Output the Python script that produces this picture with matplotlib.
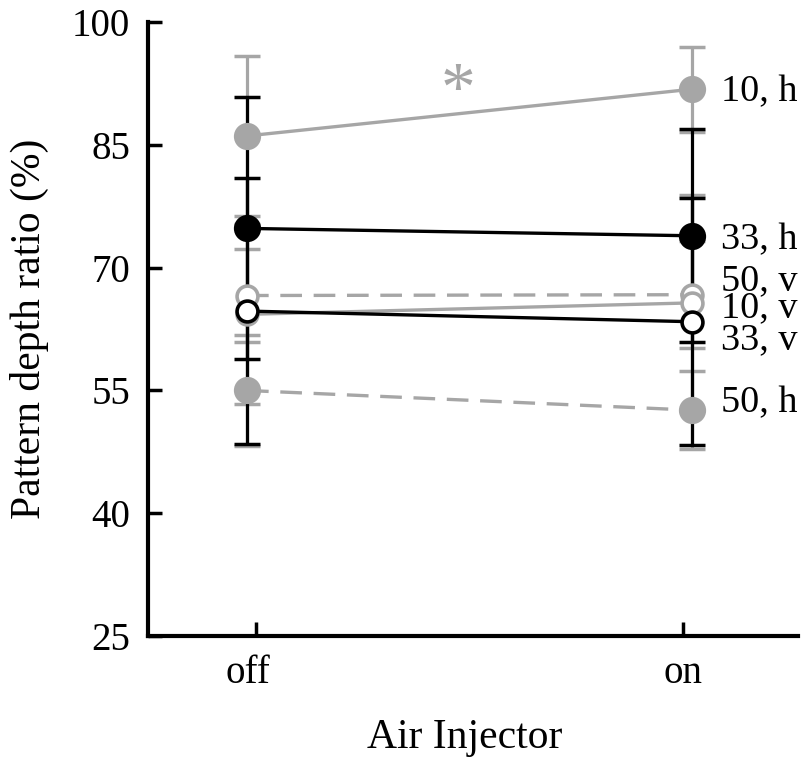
import matplotlib
matplotlib.use('Agg')
import matplotlib.pyplot as plt
import matplotlib.transforms as mtransforms

plt.rcParams['font.family'] = ['Liberation Serif', 'DejaVu Serif']

# conditions: off / on
conditions = ['off', 'on']
series = ['10, h', '33, h', '50, v', '10, v', '33, v', '50, h']

off_mean = [86.1, 74.8, 66.6, 64.3, 64.7, 55.0]
on_mean = [91.8, 73.9, 66.7, 65.7, 63.4, 52.6]
off_err = [9.8, 16.0, 5.7, 11.0, 16.3, 6.8]
on_err = [5.2, 13.0, 6.5, 13.2, 15.1, 4.8]

GRAY = '#a6a6a6'
colors = [GRAY, 'black', GRAY, GRAY, 'black', GRAY]
filled = [True, True, False, False, False, True]
styles = ['-', '-', (0, (6.5, 3.5)), '-', '-', (0, (6.5, 3.5))]
label_y = [90.3, 72.3, 67.3, 63.9, 60.0, 52.3]

fig = plt.figure(figsize=(8.06, 7.63), dpi=100)
ax = fig.add_axes([0.1836, 0.1664, 0.8064, 0.8046])

xs = [-0.021, 1.021]
for i in range(len(series)):
    c = colors[i]
    z = 3 if c == 'black' else 2
    ax.errorbar(xs, [off_mean[i], on_mean[i]], yerr=[off_err[i], on_err[i]],
                fmt='none', ecolor=c, elinewidth=2.3, capsize=9.5, capthick=2.5,
                zorder=z)
for i in range(len(series)):
    c = colors[i]
    z = 5 if c == 'black' else 4
    ax.plot(xs, [off_mean[i], on_mean[i]], color=c, lw=2.4, linestyle=styles[i],
            marker='o', ms=17 if filled[i] else 15,
            mfc=c if filled[i] else 'white', mec=c, mew=2.6, zorder=z)
    ax.text(1.09, label_y[i], series[i], fontsize=27.5, ha='left', va='baseline')

ax.text(0.473, 91.3, '*', fontsize=50, color=GRAY, ha='center', va='center')

ax.set_xlim(-0.253, 1.27)
ax.set_ylim(25, 100)
ax.set_yticks([25, 40, 55, 70, 85, 100])
ax.set_xticks([0, 1])
ax.set_xticklabels(conditions)
ax.tick_params(direction='in', length=10, width=2.5, labelsize=28)
ax.tick_params(axis='y', pad=13)
ax.tick_params(axis='x', pad=14)
off_lbl = ax.get_xticklabels()[0]
off_lbl.set_transform(off_lbl.get_transform()
                      + mtransforms.ScaledTranslation(-0.08, 0, fig.dpi_scale_trans))
for s in ['top', 'right']:
    ax.spines[s].set_visible(False)
for s in ['left', 'bottom']:
    ax.spines[s].set_linewidth(3)
ax.set_ylabel('Pattern depth ratio (%)', fontsize=30, labelpad=16)
ax.set_xlabel('Air Injector', fontsize=30, labelpad=19, x=0.487)

fig.savefig('out.png', dpi=100)
